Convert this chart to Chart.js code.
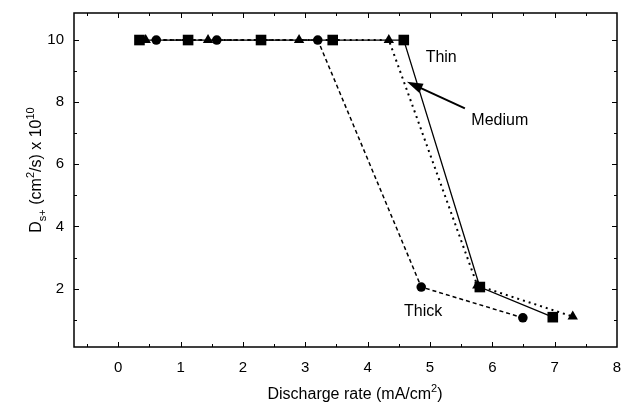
<!DOCTYPE html>
<html>
<head>
<meta charset="utf-8">
<script src="https://cdn.jsdelivr.net/npm/chart.js@4/dist/chart.umd.min.js"></script>
<style>
  html, body { margin: 0; padding: 0; background: #fff; }
  canvas { display: block; }
</style>
</head>
<body>
<canvas id="chart" width="625" height="404"></canvas>
<script>
// Data
const thinX = [0.34, 1.12, 2.29, 3.44, 4.58, 5.80, 6.97];
const thinY = [10, 10, 10, 10, 10, 2.05, 1.08];
const mediumX = [0.44, 1.44, 2.90, 4.34, 5.76, 7.29];
const mediumY = [10, 10, 10, 10, 2.1, 1.1];
const thickX = [0.61, 1.58, 3.20, 4.86, 6.49];
const thickY = [10, 10, 10, 2.05, 1.06];

const xTickLabels = [0, 1, 2, 3, 4, 5, 6, 7, 8];
const yTickLabels = [2, 4, 6, 8, 10];

const FONT = '"Liberation Sans", Arial, sans-serif';

const toPoints = (xs, ys) => xs.map((x, i) => ({ x: x, y: ys[i] }));

// frame, inward ticks, axis titles and curve labels
const decorPlugin = {
    id: 'decor',
    afterDraw(chart) {
        const { ctx, chartArea: a, scales: { x, y } } = chart;
        ctx.save();
        ctx.strokeStyle = '#000';
        ctx.lineWidth = 1.5;
        ctx.strokeRect(a.left, a.top, a.right - a.left, a.bottom - a.top);

        ctx.lineWidth = 1;
        ctx.beginPath();
        for (let v = -0.5; v <= 7.5; v += 0.5) {
            const px = Math.round(x.getPixelForValue(v)) + 0.5;
            const len = Number.isInteger(v) ? 5 : 3;
            ctx.moveTo(px, a.bottom); ctx.lineTo(px, a.bottom - len);
            ctx.moveTo(px, a.top); ctx.lineTo(px, a.top + len);
        }
        for (let v = 1; v <= 10; v += 1) {
            const py = Math.round(y.getPixelForValue(v)) + 0.5;
            const len = v % 2 === 0 ? 5 : 3;
            ctx.moveTo(a.left, py); ctx.lineTo(a.left + len, py);
            ctx.moveTo(a.right, py); ctx.lineTo(a.right - len, py);
        }
        ctx.stroke();

        ctx.fillStyle = '#000';
        ctx.textBaseline = 'alphabetic';

        // x title with superscript
        const xt1 = 'Discharge rate (mA/cm', xt2 = '2', xt3 = ')';
        ctx.font = '16px ' + FONT;
        const w1 = ctx.measureText(xt1).width, w3 = ctx.measureText(xt3).width;
        ctx.font = '11px ' + FONT;
        const w2 = ctx.measureText(xt2).width;
        let sx = 355 - (w1 + w2 + w3) / 2;
        const by = 399;
        ctx.font = '16px ' + FONT; ctx.fillText(xt1, sx, by); sx += w1;
        ctx.font = '11px ' + FONT; ctx.fillText(xt2, sx, by - 7); sx += w2;
        ctx.font = '16px ' + FONT; ctx.fillText(xt3, sx, by);

        // y title, rotated, with sub/superscripts
        const parts = [
            { t: 'D', size: 16, dy: 0 },
            { t: 's+', size: 11, dy: 5 },
            { t: ' (cm', size: 16, dy: 0 },
            { t: '2', size: 11, dy: -7 },
            { t: '/s) x 10', size: 16, dy: 0 },
            { t: '10', size: 11, dy: -7 }
        ];
        let total = 0;
        parts.forEach(p => { ctx.font = p.size + 'px ' + FONT; p.w = ctx.measureText(p.t).width; total += p.w; });
        ctx.translate(41, 170);
        ctx.rotate(-Math.PI / 2);
        let tx = -total / 2;
        parts.forEach(p => {
            ctx.font = p.size + 'px ' + FONT;
            ctx.fillText(p.t, tx, p.dy);
            tx += p.w;
        });
        ctx.restore();

        // curve labels and arrow
        ctx.save();
        ctx.fillStyle = '#000';
        ctx.font = '16px ' + FONT;
        ctx.textAlign = 'center';
        ctx.textBaseline = 'middle';
        ctx.fillText('Thin', x.getPixelForValue(5.18), y.getPixelForValue(9.45));
        ctx.fillText('Medium', x.getPixelForValue(6.12), y.getPixelForValue(7.42));
        ctx.fillText('Thick', x.getPixelForValue(4.89), y.getPixelForValue(1.25));

        const x0 = x.getPixelForValue(5.56), y0 = y.getPixelForValue(7.8);
        const x1 = x.getPixelForValue(4.63), y1 = y.getPixelForValue(8.66);
        const ang = Math.atan2(y1 - y0, x1 - x0);
        ctx.strokeStyle = '#000';
        ctx.lineWidth = 2;
        ctx.beginPath();
        ctx.moveTo(x0, y0);
        ctx.lineTo(x1 - 10 * Math.cos(ang), y1 - 10 * Math.sin(ang));
        ctx.stroke();
        ctx.beginPath();
        ctx.moveTo(x1, y1);
        ctx.lineTo(x1 - 16 * Math.cos(ang) + 5 * Math.sin(ang), y1 - 16 * Math.sin(ang) - 5 * Math.cos(ang));
        ctx.lineTo(x1 - 16 * Math.cos(ang) - 5 * Math.sin(ang), y1 - 16 * Math.sin(ang) + 5 * Math.cos(ang));
        ctx.closePath();
        ctx.fill();
        ctx.restore();
    }
};

const noEdgePadding = (scale) => {
    scale.paddingLeft = 0;
    scale.paddingRight = 0;
    scale.paddingTop = 0;
    scale.paddingBottom = 0;
};

new Chart(document.getElementById('chart'), {
    type: 'scatter',
    data: {
        datasets: [
            {
                label: 'Thick',
                data: toPoints(thickX, thickY),
                showLine: true,
                borderColor: '#000',
                backgroundColor: '#000',
                borderWidth: 1.5,
                borderDash: [4, 3],
                pointStyle: 'circle',
                pointRadius: 4.8,
                pointBorderWidth: 0
            },
            {
                label: 'Medium',
                data: toPoints(mediumX, mediumY),
                showLine: true,
                borderColor: '#000',
                backgroundColor: '#000',
                borderWidth: 2,
                borderDash: [2, 4],
                pointStyle: 'triangle',
                pointRadius: 6,
                pointBorderWidth: 0
            },
            {
                label: 'Thin',
                data: toPoints(thinX, thinY),
                showLine: true,
                borderColor: '#000',
                backgroundColor: '#000',
                borderWidth: 1.3,
                pointStyle: 'rect',
                pointRadius: 7.5,
                pointBorderWidth: 0
            }
        ]
    },
    options: {
        responsive: false,
        animation: false,
        layout: { padding: { top: 13, right: 8, left: 0, bottom: 0 } },
        plugins: {
            legend: { display: false },
            tooltip: { enabled: false }
        },
        scales: {
            x: {
                type: 'linear',
                min: -0.71,
                max: 8,
                grid: { display: false, drawTicks: false },
                border: { display: false },
                afterBuildTicks: (scale) => { scale.ticks = xTickLabels.map(v => ({ value: v })); },
                afterFit: (scale) => { scale.height = 57; noEdgePadding(scale); },
                ticks: { color: '#000', padding: 12, maxRotation: 0, font: { size: 15, family: FONT } }
            },
            y: {
                type: 'linear',
                min: 0.12,
                max: 10.87,
                grid: { display: false, drawTicks: false },
                border: { display: false },
                afterBuildTicks: (scale) => { scale.ticks = yTickLabels.map(v => ({ value: v })); },
                afterFit: (scale) => { scale.width = 74; noEdgePadding(scale); },
                ticks: { color: '#000', padding: 10, font: { size: 15, family: FONT } }
            }
        }
    },
    plugins: [decorPlugin]
});
</script>
</body>
</html>
